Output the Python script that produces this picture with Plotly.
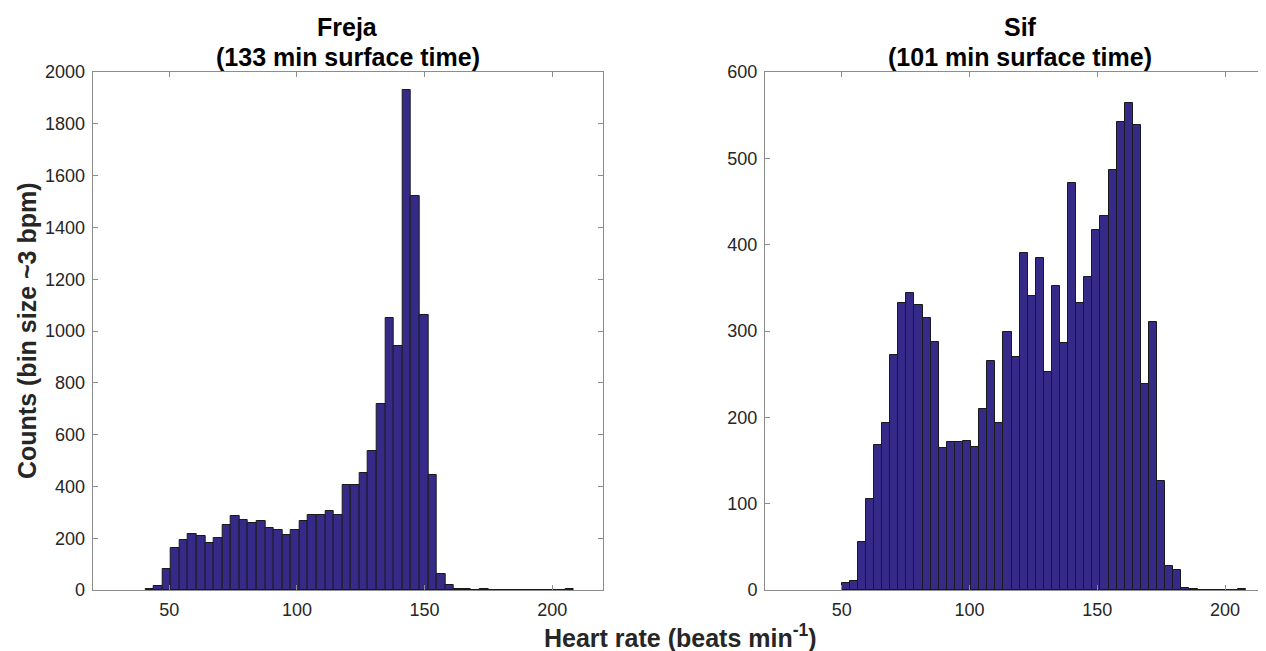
import numpy as np
import plotly.graph_objects as go

# histogram counts, 50 bins each
freja_counts = [5, 17, 83, 163, 195, 215, 207, 180, 199, 251,
                285, 271, 259, 268, 239, 231, 211, 231, 268, 291,
                288, 305, 288, 405, 405, 452, 536, 719, 1049, 944,
                1931, 1521, 1061, 444, 63, 21, 3, 2, 1, 2,
                1, 0, 1, 1, 0, 0, 0, 0, 0, 3]
freja_range = [40.6, 208.5]

sif_counts = [8, 10, 56, 105, 168, 193, 272, 332, 344, 330,
              315, 287, 164, 172, 172, 173, 166, 210, 265, 194,
              299, 270, 390, 341, 384, 252, 352, 286, 472, 333,
              362, 417, 433, 487, 542, 564, 539, 239, 311, 126,
              28, 23, 2, 1, 0, 0, 0, 0, 0, 1]
sif_range = [50.0, 208.2]

names = ['Freja', 'Sif']
subtitles = ['(133 min surface time)', '(101 min surface time)']

FONT = 'Liberation Sans, Arial, sans-serif'
BAR = '#352A87'
AXC = '#8c8c8c'

# page body has an 8px margin; figure sized to fit the window
W, H = 1258, 643
T, B = 64, 61


def px(sx):
    return (sx - 8) / W


def py(sy):
    return (H - B + 8 - sy) / (H - T - B)


def bins(rng, counts):
    edges = np.linspace(rng[0], rng[1], len(counts) + 1)
    centers = (edges[:-1] + edges[1:]) / 2
    return centers, edges[1] - edges[0]


fig = go.Figure()

for i, (rng, counts) in enumerate([(freja_range, freja_counts), (sif_range, sif_counts)]):
    centers, w = bins(rng, counts)
    fig.add_trace(go.Bar(
        x=centers, y=counts, width=w,
        marker=dict(color=BAR, line=dict(color='#1a1a1a', width=1)),
        xaxis='x' if i == 0 else 'x2',
        yaxis='y' if i == 0 else 'y2',
        showlegend=False,
    ))

axis_common = dict(
    showline=True, linecolor=AXC, linewidth=1,
    ticks='inside', ticklen=5, tickcolor=AXC, tickwidth=1,
    showgrid=False, zeroline=False,
    tickfont=dict(family=FONT, size=18, color='#262626'),
)

dom1 = [px(92.7), px(603.3)]
dom2 = [px(765), 1.0]

fig.update_layout(
    width=W, height=H,
    margin=dict(l=0, r=0, t=T, b=B),
    plot_bgcolor='white', paper_bgcolor='white',
    bargap=0,
    xaxis=dict(domain=dom1, range=[20, 220], tickvals=[50, 100, 150, 200],
               mirror='ticks', anchor='y', ticklabelstandoff=3, **axis_common),
    yaxis=dict(range=[0, 2000], dtick=200, mirror='ticks', anchor='x',
               ticklabelstandoff=3, **axis_common),
    xaxis2=dict(domain=dom2, range=[20, 216], tickvals=[50, 100, 150, 200],
                mirror='ticks', anchor='y2', ticklabelstandoff=3, **axis_common),
    yaxis2=dict(range=[0, 600], dtick=100, mirror=False, anchor='x2',
                ticklabelstandoff=3, **axis_common),
)

annotations = []
for xc, name, sub in zip([347.5, 1020], names, subtitles):
    annotations.append(dict(
        text='<b>%s</b>' % name, x=px(xc), y=py(27), xref='paper', yref='paper',
        xanchor='center', yanchor='middle', showarrow=False,
        font=dict(family=FONT, size=25, color='black'),
    ))
    annotations.append(dict(
        text='<b>%s</b>' % sub, x=px(xc), y=py(57), xref='paper', yref='paper',
        xanchor='center', yanchor='middle', showarrow=False,
        font=dict(family=FONT, size=25, color='black'),
    ))

annotations.append(dict(
    text='<b>Counts (bin size ~3 bpm)</b>', textangle=-90,
    x=px(27), y=py(331), xref='paper', yref='paper', xanchor='center', yanchor='middle',
    showarrow=False, font=dict(family=FONT, size=25, color='#262626'),
))
annotations.append(dict(
    text='<b>Heart rate (beats min<sup>-1</sup>)</b>',
    x=px(680), y=py(636), xref='paper', yref='paper', xanchor='center', yanchor='middle',
    showarrow=False, font=dict(family=FONT, size=25, color='#262626'),
))
fig.update_layout(annotations=annotations)

fig.write_html("out.html")
